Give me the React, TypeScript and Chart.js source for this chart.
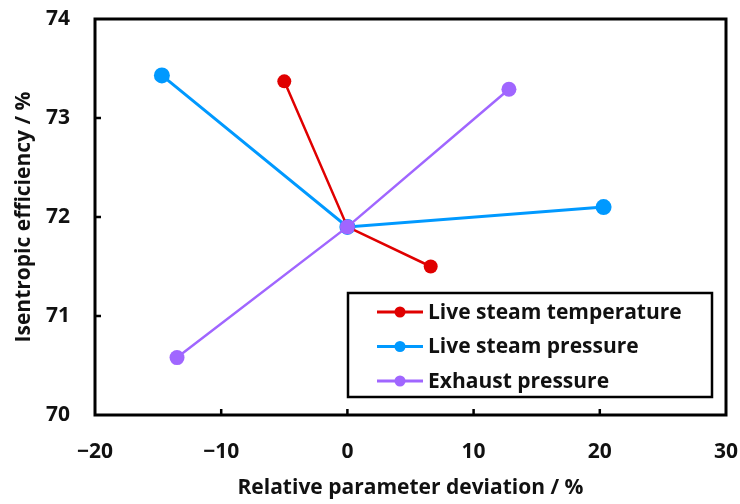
import React, { useEffect, useRef } from "react";
import { Chart, registerables } from "chart.js";

Chart.register(...registerables);

const seriesNames = ["Live steam temperature", "Live steam pressure", "Exhaust pressure"];
const seriesColors = ["#E00000", "#0099FF", "#A066FF"];
const tempX = [-5, 0, 6.6];
const tempY = [73.37, 71.9, 71.5];
const pressX = [-14.7, 0, 20.3];
const pressY = [73.43, 71.9, 72.1];
const exhaustX = [-13.5, 0, 12.8];
const exhaustY = [70.58, 71.9, 73.29];
const xTickValues = [-20, -10, 0, 10, 20, 30];
const yTickValues = [70, 71, 72, 73, 74];
const xTitle = "Relative parameter deviation / %";
const yTitle = "Isentropic efficiency / %";

const FONT = "'Open Sans', 'DejaVu Sans', sans-serif";
const FS = 21;

const toPts = (xs: number[], ys: number[]) => xs.map((x, i) => ({ x, y: ys[i] }));
const fmt = (v: number) => (v < 0 ? "\u2212" + Math.abs(v) : String(v));

const zeroPad = (s: any) => {
  s.paddingTop = 0;
  s.paddingBottom = 0;
  s.paddingLeft = 0;
  s.paddingRight = 0;
};

const framePlugin = {
  id: "frame",
  beforeDatasetsDraw(chart: any) {
    const { ctx, chartArea: a, scales } = chart;
    ctx.save();
    ctx.strokeStyle = "#000";
    ctx.lineWidth = 3;
    ctx.strokeRect(a.left, a.top, a.right - a.left, a.bottom - a.top);
    ctx.lineWidth = 2.5;
    ctx.beginPath();
    xTickValues.forEach((v) => {
      const px = scales.x.getPixelForValue(v);
      if (px > a.left + 2 && px < a.right - 2) {
        ctx.moveTo(px, a.bottom);
        ctx.lineTo(px, a.bottom - 6);
      }
    });
    yTickValues.forEach((v) => {
      const py = scales.y.getPixelForValue(v);
      if (py > a.top + 2 && py < a.bottom - 2) {
        ctx.moveTo(a.left, py);
        ctx.lineTo(a.left + 6, py);
      }
    });
    ctx.stroke();
    ctx.restore();
  },
};

const legendPlugin = {
  id: "boxLegend",
  afterDraw(chart: any) {
    const { ctx, chartArea: a } = chart;
    const w = 364;
    const h = 104;
    const right = a.right - 14;
    const bottom = a.bottom - 18;
    const left = right - w;
    const top = bottom - h;
    ctx.save();
    ctx.fillStyle = "#fff";
    ctx.fillRect(left, top, w, h);
    ctx.strokeStyle = "#000";
    ctx.lineWidth = 2.5;
    ctx.strokeRect(left, top, w, h);
    chart.data.datasets.forEach((ds: any, i: number) => {
      const y = top + 19 + i * 34.5;
      ctx.strokeStyle = ds.borderColor;
      ctx.lineWidth = 3;
      ctx.beginPath();
      ctx.moveTo(left + 29, y);
      ctx.lineTo(left + 75, y);
      ctx.stroke();
      ctx.fillStyle = ds.backgroundColor;
      ctx.beginPath();
      ctx.arc(left + 52, y, 5.5, 0, Math.PI * 2);
      ctx.fill();
      ctx.fillStyle = "#111";
      ctx.font = `bold ${FS}px ${FONT}`;
      ctx.textAlign = "left";
      ctx.textBaseline = "middle";
      ctx.fillText(ds.label, left + 80, y + 1);
    });
    ctx.restore();
  },
};

export default function App() {
  const ref = useRef<HTMLCanvasElement | null>(null);

  useEffect(() => {
    document.body.style.margin = "0";
    const canvas = ref.current;
    if (!canvas) return;
    const chart = new Chart(canvas, {
      type: "line",
      data: {
        datasets: [
          {
            label: seriesNames[0],
            data: toPts(tempX, tempY),
            borderColor: seriesColors[0],
            backgroundColor: seriesColors[0],
            borderWidth: 2.5,
            pointRadius: 7,
            pointBorderWidth: 0,
            order: 1,
          },
          {
            label: seriesNames[1],
            data: toPts(pressX, pressY),
            borderColor: seriesColors[1],
            backgroundColor: seriesColors[1],
            borderWidth: 3,
            pointRadius: 8,
            pointBorderWidth: 0,
            order: 2,
          },
          {
            label: seriesNames[2],
            data: toPts(exhaustX, exhaustY),
            borderColor: seriesColors[2],
            backgroundColor: seriesColors[2],
            borderWidth: 2.5,
            pointRadius: 7.5,
            pointBorderWidth: 0,
            order: 0,
          },
        ],
      },
      options: {
        animation: false,
        responsive: false,
        maintainAspectRatio: false,
        layout: { padding: { top: 19, right: 14, left: 0, bottom: 0 } },
        plugins: { legend: { display: false }, tooltip: { enabled: false } },
        elements: { line: { tension: 0 } },
        scales: {
          x: {
            type: "linear",
            min: -20,
            max: 30,
            afterBuildTicks: (s: any) => {
              s.ticks = xTickValues.map((v) => ({ value: v }));
            },
            afterFit: (s: any) => {
              s.height = 89;
              zeroPad(s);
            },
            grid: { display: false, drawTicks: false },
            border: { display: false },
            ticks: {
              padding: 24,
              color: "#111",
              font: { family: FONT, size: FS, weight: "bold" },
              callback: (v: any) => fmt(Number(v)),
              maxRotation: 0,
            },
            title: {
              display: true,
              text: xTitle,
              color: "#111",
              font: { family: FONT, size: FS, weight: "bold" },
              padding: { top: 0, bottom: 3 },
            },
          },
          y: {
            type: "linear",
            min: 70,
            max: 74,
            afterBuildTicks: (s: any) => {
              s.ticks = yTickValues.map((v) => ({ value: v }));
            },
            afterFit: (s: any) => {
              s.width = 95;
              zeroPad(s);
            },
            grid: { display: false, drawTicks: false },
            border: { display: false },
            ticks: {
              padding: 25,
              color: "#111",
              font: { family: FONT, size: FS, weight: "bold" },
              callback: (v: any) => fmt(Number(v)),
            },
            title: {
              display: true,
              text: yTitle,
              color: "#111",
              font: { family: FONT, size: FS, weight: "bold" },
              padding: { top: 11, bottom: 0 },
            },
          },
        },
      },
      plugins: [framePlugin, legendPlugin],
    } as any);
    return () => chart.destroy();
  }, []);

  return (
    <div style={{ width: 740, height: 504, background: "#fff" }}>
      <canvas ref={ref} width={740} height={504} style={{ display: "block" }} />
    </div>
  );
}
